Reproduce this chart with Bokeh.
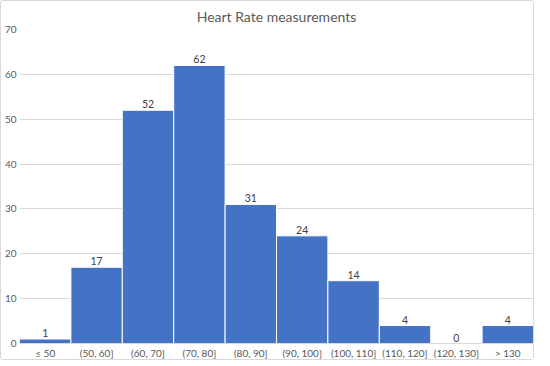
from bokeh.plotting import figure
from bokeh.models import ColumnDataSource, FactorRange, Range1d, FixedTicker, LabelSet
from bokeh.core.properties import value
from bokeh.embed import file_html
from bokeh.resources import INLINE

categories = ["≤ 50", "(50, 60]", "(60, 70]", "(70, 80]", "(80, 90]", "(90, 100]",
              "(100, 110]", "(110, 120]", "(120, 130]", "> 130"]
counts = [1, 17, 52, 62, 31, 24, 14, 4, 0, 4]
y_ticks = [0, 10, 20, 30, 40, 50, 60, 70]

FONT = "Lato"
src = ColumnDataSource(dict(cat=categories, n=counts, lbl=[str(c) for c in counts]))

p = figure(width=534, height=360, x_range=FactorRange(*categories, range_padding=0),
           y_range=Range1d(0, 70), output_backend="svg", toolbar_location=None,
           title="Heart Rate measurements", min_border_left=14, min_border_right=2,
           min_border_top=0, min_border_bottom=0)
p.title.align = "center"
p.title.text_font = FONT
p.title.text_font_size = "10.5pt"
p.title.text_font_style = "normal"
p.title.text_color = "#595959"
p.title.standoff = 9

p.vbar(x="cat", top="n", width=1.0, source=src, fill_color="#4472C4",
       line_color="white", line_width=1)

labels = LabelSet(x="cat", y="n", text="lbl", source=src, text_align="center",
                  y_offset=2, text_font_size="10.5px", text_color="#404040",
                  text_font=value(FONT))
p.add_layout(labels)

p.yaxis.ticker = FixedTicker(ticks=y_ticks)
p.ygrid.ticker = FixedTicker(ticks=y_ticks)
p.ygrid.grid_line_color = "#d9d9d9"
p.xgrid.grid_line_color = None
p.yaxis.axis_line_color = None
p.yaxis.major_tick_line_color = None
p.yaxis.minor_tick_line_color = None
p.xaxis.axis_line_color = "#d9d9d9"
p.xaxis.major_tick_line_color = None
p.xaxis.minor_tick_line_color = None
p.xaxis.group_text_font_size = "0pt"
for ax in (p.xaxis, p.yaxis):
    ax.major_label_text_font = FONT
    ax.major_label_text_font_size = "10px"
    ax.major_label_text_color = "#595959"
    ax.major_label_standoff = 3
p.xaxis.major_tick_out = 0
p.xaxis.major_tick_in = 0
p.yaxis.major_tick_out = 0
p.yaxis.major_tick_in = 0
p.outline_line_color = None
p.styles = {"border": "1px solid #d9d9d9", "border-radius": "3px"}

open("out.html", "w").write(file_html(p, INLINE))
